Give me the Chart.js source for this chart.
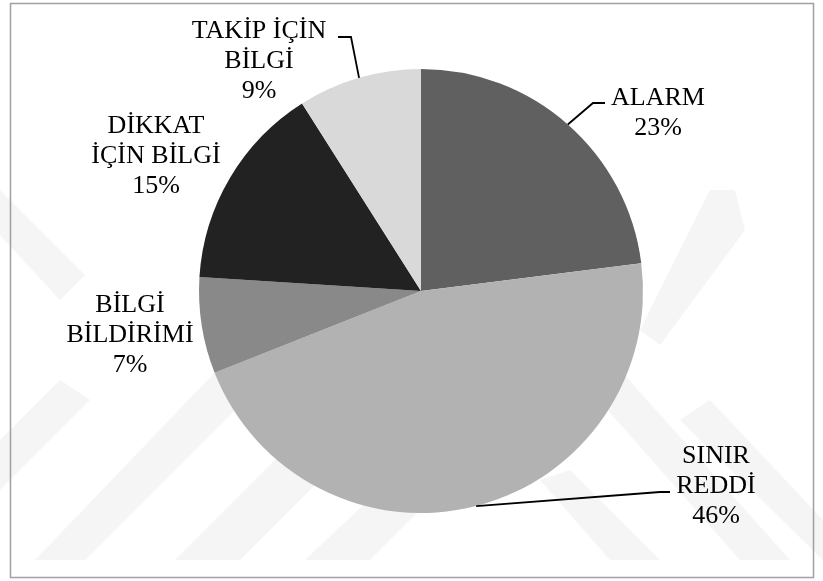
<!DOCTYPE html>
<html><head><meta charset="utf-8">
<script src="https://cdn.jsdelivr.net/npm/chart.js@4"></script>
<style>html,body{margin:0;padding:0;background:#fff}#c{display:block}</style>
</head><body>
<canvas id="c" width="823" height="581"></canvas>
<script>
const categories = ['ALARM', 'SINIR REDDİ', 'BİLGİ BİLDİRİMİ', 'DİKKAT İÇİN BİLGİ', 'TAKİP İÇİN BİLGİ'];
const labelLines = [['ALARM'], ['SINIR', 'REDDİ'], ['BİLGİ', 'BİLDİRİMİ'], ['DİKKAT', 'İÇİN BİLGİ'], ['TAKİP İÇİN', 'BİLGİ']];
const values = [23, 46, 7, 15, 9];
const colors = ['#606060', '#b2b2b2', '#898989', '#222222', '#d9d9d9'];

// label placement relative to pie centre (text centre x, first baseline y)
const labelPlacement = [
  {dx: 237, dy: -186, leader: [[172, -188], [184, -188]]},
  {dx: 295, dy: 172, leader: [[239, 201], [249, 201]]},
  {dx: -291, dy: 21, leader: null},
  {dx: -265, dy: -158, leader: null},
  {dx: -162, dy: -253, leader: [[-70, -254], [-83, -254]]}
];

const watermark = {
  id: 'watermark',
  beforeDraw(chart) {
    const ctx = chart.ctx;
    ctx.save();
    ctx.fillStyle = '#fff';
    ctx.fillRect(0, 0, chart.width, chart.height);
    ctx.fillStyle = '#f5f5f5';
    const polys = [
      [[0, 190], [0, 235], [60, 300], [85, 275]],
      [[0, 440], [0, 490], [90, 400], [60, 380]],
      [[35, 560], [85, 560], [300, 345], [270, 315]],
      [[175, 560], [240, 560], [330, 470], [295, 440]],
      [[305, 560], [370, 560], [420, 510], [390, 480]],
      [[590, 390], [620, 370], [790, 560], [740, 560]],
      [[680, 420], [710, 400], [823, 520], [823, 560]],
      [[640, 330], [660, 345], [745, 230], [735, 190], [710, 190]],
      [[540, 480], [570, 470], [660, 560], [610, 560]]
    ];
    for (const p of polys) {
      ctx.beginPath();
      ctx.moveTo(p[0][0], p[0][1]);
      for (let i = 1; i < p.length; i++) ctx.lineTo(p[i][0], p[i][1]);
      ctx.closePath();
      ctx.fill();
    }
    ctx.restore();
  }
};

const labelsPlugin = {
  id: 'pieLabels',
  afterDatasetsDraw(chart) {
    const ctx = chart.ctx;
    const meta = chart.getDatasetMeta(0);
    const vals = chart.data.datasets[0].data;
    ctx.save();
    meta.data.forEach((arc, i) => {
      const p = arc.getProps(['x', 'y', 'startAngle', 'endAngle', 'outerRadius'], true);
      const cx = p.x, cy = p.y;
      const pl = labelPlacement[i];
      if (pl.leader) {
        const mid = (p.startAngle + p.endAngle) / 2;
        ctx.beginPath();
        ctx.strokeStyle = '#000';
        ctx.lineWidth = 1.8;
        ctx.moveTo(cx + Math.cos(mid) * p.outerRadius, cy + Math.sin(mid) * p.outerRadius);
        for (const pt of pl.leader) ctx.lineTo(cx + pt[0], cy + pt[1]);
        ctx.stroke();
      }
      ctx.fillStyle = '#000';
      ctx.font = '26px "Liberation Serif", "Times New Roman", serif';
      ctx.textAlign = 'center';
      ctx.textBaseline = 'alphabetic';
      const lines = labelLines[i].concat([vals[i] + '%']);
      lines.forEach((t, k) => {
        ctx.fillText(t, cx + pl.dx, cy + pl.dy + k * 30);
      });
    });
    // frame
    ctx.strokeStyle = '#a0a0a0';
    ctx.lineWidth = 1.5;
    ctx.strokeRect(10.5, 3.5, 803, 574);
    ctx.restore();
  }
};

new Chart(document.getElementById('c'), {
  type: 'pie',
  data: {
    labels: categories,
    datasets: [{
      data: values,
      backgroundColor: colors,
      borderWidth: 0
    }]
  },
  options: {
    responsive: false,
    animation: false,
    devicePixelRatio: 1,
    layout: {padding: {left: 199, right: 180, top: 69, bottom: 68}},
    plugins: {legend: {display: false}, tooltip: {enabled: false}}
  },
  plugins: [watermark, labelsPlugin]
});
</script>
</body></html>
